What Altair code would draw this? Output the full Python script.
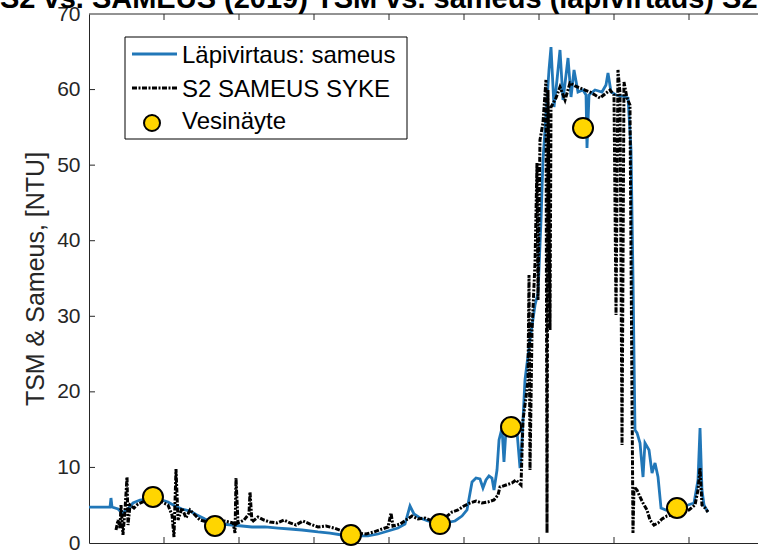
import altair as alt
import pandas as pd

# ---------------- data ----------------
# Läpivirtaus: sameus (blue line)
blue_t = [0, 0.213, 0.28, 0.293, 0.307, 0.387, 0.44, 0.507, 0.587, 0.68,
          0.787, 0.88, 0.973, 1.053, 1.147, 1.24, 1.347, 1.44, 1.547, 1.64,
          1.773, 1.907, 2.04, 2.173, 2.347, 2.52, 2.68, 2.84, 3.053, 3.213,
          3.373, 3.547, 3.72, 3.853, 3.987, 4.12, 4.213, 4.28, 4.333, 4.413,
          4.52, 4.627, 4.747, 4.88, 4.973, 5.04, 5.107, 5.16, 5.213, 5.253,
          5.293, 5.333, 5.373, 5.4, 5.44, 5.467, 5.507, 5.533, 5.56, 5.64,
          5.707, 5.747, 5.773, 5.813, 5.88, 5.947, 5.987, 6.027, 6.053, 6.107,
          6.133, 6.16, 6.2, 6.24, 6.28, 6.32, 6.36, 6.387, 6.427, 6.467,
          6.52, 6.587, 6.627, 6.64, 6.667, 6.747, 6.84, 6.893, 6.92, 6.96,
          7.027, 7.107, 7.187, 7.227, 7.253, 7.28, 7.307, 7.347, 7.387, 7.413,
          7.467, 7.507, 7.547, 7.587, 7.627, 7.693, 7.773, 7.88, 7.987, 8.067,
          8.12, 8.147, 8.173, 8.2, 8.253]
blue_v = [4.76, 4.76, 4.76, 5.95, 4.76, 4.50, 3.97, 4.37, 5.29, 5.69,
          5.82, 5.82, 5.69, 5.43, 4.90, 4.50, 4.23, 3.71, 3.18, 2.78,
          2.51, 2.38, 2.25, 2.12, 2.12, 1.98, 1.85, 1.72, 1.46, 1.32,
          1.06, 0.93, 0.93, 1.19, 1.59, 1.98, 2.51, 4.90, 3.84, 3.31,
          2.91, 2.65, 2.65, 2.91, 3.57, 4.37, 8.07, 8.60, 8.47, 7.28,
          8.34, 8.87, 8.60, 7.01, 9.66, 13.63, 15.22, 10.72, 14.95, 15.22,
          14.69, 9.92, 13.63, 21.57, 26.86, 31.49, 33.08, 42.74, 50.68, 58.62,
          62.59, 65.63, 57.69, 61.27, 65.24, 58.62, 61.93, 64.18, 59.02, 62.59,
          59.68, 59.94, 59.28, 52.27, 59.28, 59.94, 59.68, 60.61, 62.19, 59.68,
          59.28, 59.15, 58.89, 52.00, 35.20, 14.95, 14.56, 13.23, 8.73, 13.23,
          12.31, 9.26, 10.59, 8.73, 4.63, 4.37, 4.37, 4.76, 5.03, 5.29,
          8.34, 15.22, 7.01, 5.03, 4.10]

# S2 SAMEUS SYKE (black dash-dot line)
black_t = [0.36, 0.387, 0.413, 0.427, 0.453, 0.48, 0.507, 0.52, 0.547, 0.6,
           0.653, 0.72, 0.787, 0.88, 0.973, 1.053, 1.107, 1.133, 1.16, 1.187,
           1.24, 1.293, 1.347, 1.413, 1.48, 1.587, 1.693, 1.813, 1.92, 1.947,
           1.96, 1.987, 2.067, 2.133, 2.147, 2.173, 2.253, 2.333, 2.413, 2.507,
           2.6, 2.68, 2.76, 2.853, 2.947, 3.053, 3.16, 3.267, 3.373, 3.48,
           3.587, 3.693, 3.8, 3.907, 3.987, 4.027, 4.053, 4.147, 4.227, 4.307,
           4.387, 4.48, 4.573, 4.68, 4.76, 4.84, 4.92, 5.0, 5.08, 5.16,
           5.24, 5.32, 5.4, 5.453, 5.48, 5.56, 5.64, 5.693, 5.76, 5.787,
           5.827, 5.853, 5.867, 5.88, 5.907, 5.947, 5.973, 5.987, 6.013, 6.053,
           6.093, 6.107, 6.12, 6.147, 6.16, 6.227, 6.28, 6.347, 6.413, 6.48,
           6.547, 6.613, 6.68, 6.747, 6.813, 6.88, 6.947, 7.0, 7.027, 7.053,
           7.08, 7.107, 7.133, 7.173, 7.213, 7.253, 7.267, 7.307, 7.347, 7.387,
           7.44, 7.48, 7.533, 7.587, 7.64, 7.707, 7.773, 7.853, 7.933, 8.0,
           8.08, 8.12, 8.147, 8.173, 8.213, 8.253]
black_v = [1.72, 3.04, 1.98, 5.03, 1.06, 4.37, 8.73, 2.38, 5.03, 4.63,
           5.16, 5.43, 5.69, 5.82, 5.43, 5.03, 3.71, 0.79, 9.79, 3.04,
           4.63, 3.31, 4.37, 3.71, 3.04, 2.78, 2.65, 2.91, 2.65, 1.32,
           8.60, 2.65, 3.04, 3.84, 6.75, 2.78, 3.44, 3.04, 2.78, 2.65,
           3.04, 2.65, 2.38, 2.91, 2.51, 2.12, 2.25, 1.98, 1.59, 1.46,
           1.32, 1.19, 1.46, 1.85, 2.12, 3.97, 2.25, 2.51, 3.04, 3.57,
           3.18, 3.31, 2.91, 3.04, 3.44, 4.10, 4.37, 4.90, 5.29, 5.56,
           5.29, 5.43, 5.69, 6.35, 7.41, 7.67, 7.94, 8.34, 7.67, 16.28,
           19.32, 21.57, 35.46, 9.66, 28.19, 37.05, 50.28, 32.16, 53.33, 55.58,
           61.27, 1.32, 59.94, 28.19, 57.69, 58.89, 60.34, 58.62, 60.87, 60.47,
           60.21, 59.94, 59.68, 59.28, 58.89, 59.42, 59.94, 59.28, 30.17, 62.59,
           59.55, 12.97, 61.00, 58.89, 57.96, 1.32, 7.41, 7.01, 6.09, 5.29,
           4.37, 3.04, 2.38, 2.65, 3.18, 3.57, 3.71, 3.71, 4.10, 4.37,
           5.03, 7.01, 9.92, 5.03, 4.63, 4.10]

# Vesinäyte (water samples)
sample_t = [0.853, 1.68, 3.493, 4.68, 5.627, 6.587, 7.84]
sample_v = [6.09, 2.25, 1.06, 2.51, 15.35, 54.92, 4.63]

x_ticks = [1, 2, 3, 4, 5, 6, 7, 8]
y_ticks = [10, 20, 30, 40, 50, 60]
y_labels = [0, 10, 20, 30, 40, 50, 60, 70]
legend_labels = ["Läpivirtaus: sameus", "S2 SAMEUS SYKE", "Vesinäyte"]
title_text = "S2 vs. SAMEUS (2019) TSM vs. sameus (läpivirtaus) S2"
y_title = "TSM & Sameus, [NTU]"

# ---------------- styling ----------------
BLUE = "#2177b8"
GOLD = "#FFD500"
AX = "#262626"
FONT = "Liberation Sans"
W, H = 669, 529
DASH = [5, 1.5, 2, 1.5]

blue_df = pd.DataFrame({"t": blue_t, "v": blue_v, "i": range(len(blue_t))})
black_df = pd.DataFrame({"t": black_t, "v": black_v, "i": range(len(black_t))})
sample_df = pd.DataFrame({"t": sample_t, "v": sample_v})
xt_df = pd.DataFrame({"t": x_ticks})
yt_df = pd.DataFrame({"v": y_ticks})
one = pd.DataFrame({"k": [0]})

xs = alt.Scale(domain=[0, 8.92], nice=False, zero=False)
ys = alt.Scale(domain=[0, 70], nice=False, zero=False)

x_axis = alt.Axis(orient="bottom", labels=False, ticks=False, tickSize=0,
                  grid=False, title=None, domainColor=AX, domainWidth=1)
y_axis = alt.Axis(values=y_labels, ticks=False, tickSize=0, labelPadding=9,
                  grid=False, title=y_title, titlePadding=8,
                  domainColor=AX, domainWidth=1, labelOverlap=False)

blue_line = alt.Chart(blue_df).mark_line(color=BLUE, strokeWidth=2.8, clip=True).encode(
    x=alt.X("t:Q", scale=xs, axis=x_axis),
    y=alt.Y("v:Q", scale=ys, axis=y_axis),
    order="i:Q",
)

black_line = alt.Chart(black_df).mark_line(
    color="black", strokeWidth=3, strokeDash=DASH, clip=True
).encode(
    x=alt.X("t:Q", scale=xs, axis=x_axis),
    y=alt.Y("v:Q", scale=ys, axis=y_axis),
    order="i:Q",
)

samples = alt.Chart(sample_df).mark_point(
    shape="circle", filled=True, fill=GOLD, stroke="black", strokeWidth=2,
    size=400, opacity=1
).encode(
    x=alt.X("t:Q", scale=xs, axis=x_axis),
    y=alt.Y("v:Q", scale=ys, axis=y_axis),
)

# top frame line and inward tick marks (MATLAB style)
top_frame = alt.Chart(one).mark_rule(color=AX, strokeWidth=1).encode(
    x=alt.value(0), x2=alt.value(W), y=alt.value(0)
)
top_ticks = alt.Chart(xt_df).mark_rule(color=AX, strokeWidth=1).encode(
    x=alt.X("t:Q", scale=xs, axis=x_axis),
    y=alt.value(0), y2=alt.value(6),
)
bottom_ticks = alt.Chart(xt_df).mark_rule(color=AX, strokeWidth=1).encode(
    x=alt.X("t:Q", scale=xs, axis=x_axis),
    y=alt.value(H), y2=alt.value(H - 6),
)
left_ticks = alt.Chart(yt_df).mark_rule(color=AX, strokeWidth=1).encode(
    y=alt.Y("v:Q", scale=ys, axis=y_axis),
    x=alt.value(0), x2=alt.value(6),
)

# cropped title
title = alt.Chart(one).mark_text(
    text=title_text, align="left", baseline="alphabetic", fontSize=29,
    fontWeight="bold", font=FONT, color="black"
).encode(x=alt.value(-89), y=alt.value(-6))

# legend
leg_box = alt.Chart(one).mark_rect(fill="white", stroke="black", strokeWidth=1).encode(
    x=alt.value(36), x2=alt.value(318), y=alt.value(23), y2=alt.value(125)
)
leg_blue = alt.Chart(one).mark_rule(color=BLUE, strokeWidth=2.8).encode(
    x=alt.value(43), x2=alt.value(88), y=alt.value(40)
)
leg_black = alt.Chart(one).mark_rule(color="black", strokeWidth=3, strokeDash=DASH).encode(
    x=alt.value(43), x2=alt.value(88), y=alt.value(74)
)
leg_pt = alt.Chart(one).mark_point(
    shape="circle", filled=True, fill=GOLD, stroke="black", strokeWidth=2, size=256, opacity=1
).encode(x=alt.value(63), y=alt.value(109))
leg_txt = [
    alt.Chart(one).mark_text(text=lab, align="left", baseline="middle", fontSize=24,
                             font=FONT, color="black").encode(x=alt.value(93), y=alt.value(yy))
    for lab, yy in zip(legend_labels, [42, 76, 108])
]

chart = alt.layer(
    blue_line, black_line, samples, top_frame, top_ticks, bottom_ticks, left_ticks, title,
    leg_box, leg_blue, leg_black, leg_pt, *leg_txt
).properties(
    width=W, height=H,
    autosize=alt.AutoSizeParams(type="none"),
    padding={"left": 89, "top": 14, "right": 0, "bottom": 8},
).configure_view(stroke=None).configure_axis(
    labelFont=FONT, labelFontSize=21, labelColor=AX,
    titleFont=FONT, titleFontSize=25, titleFontWeight="normal", titleColor=AX,
)

chart.save("out.html", embed_options={"renderer": "svg", "actions": False})
